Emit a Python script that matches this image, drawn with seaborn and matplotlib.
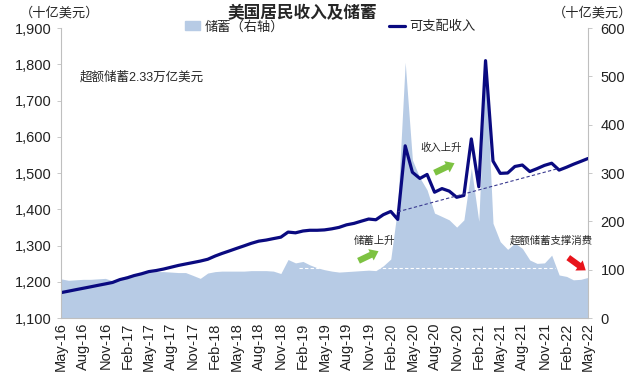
import pandas as pd
import numpy as np
import seaborn as sns
import matplotlib.pyplot as plt
import matplotlib.dates as mdates
import matplotlib.ticker as mticker

# monthly data May-16 .. May-22
months = pd.date_range("2016-05-01", periods=73, freq="MS")

income = [1170, 1174, 1178, 1182, 1186, 1190, 1194, 1198, 1206, 1211, 1217, 1222,
          1228, 1231, 1235, 1240, 1245, 1249, 1253, 1257, 1262, 1271, 1278, 1285,
          1292, 1299, 1306, 1312, 1315, 1319, 1323, 1337, 1335, 1340, 1342, 1342,
          1343, 1346, 1350, 1357, 1361, 1367, 1373, 1371, 1385, 1394, 1372, 1575,
          1502, 1485, 1496, 1447, 1457, 1450, 1433, 1438, 1594, 1462, 1810, 1533,
          1499, 1500, 1518, 1522, 1504, 1512, 1521, 1527, 1508, 1516, 1524, 1532,
          1540]

savings = [81, 78, 79, 80, 80, 81, 82, 77, 83, 88, 91, 92,
           95, 96, 96, 95, 94, 94, 88, 82, 93, 96, 97, 97,
           97, 97, 98, 98, 98, 97, 92, 121, 114, 117, 110, 104,
           100, 97, 95, 96, 97, 98, 99, 98, 108, 122, 230, 529,
           327, 290, 265, 217, 210, 203, 188, 203, 310, 200, 527, 196,
           158, 142, 155, 144, 120, 113, 114, 130, 89, 86, 79, 80,
           84]

# guide lines
trend_dates = pd.to_datetime(["2020-03-01", "2022-01-01"])
trend_vals = [1393, 1513]
base_dates = pd.to_datetime(["2019-01-15", "2021-12-15"])
base_vals = [103, 103]

df = pd.DataFrame({"月份": months, "可支配收入": income, "储蓄": savings})

sns.set_style("white")
plt.rcParams["font.family"] = ["Liberation Sans", "Noto Sans CJK SC", "DejaVu Sans"]

fig = plt.figure(figsize=(6.4, 3.82), dpi=100)
ax = fig.add_axes([61 / 640, 1 - 318 / 382, 527 / 640, 290 / 382])
ax2 = ax.twinx()

area_color = "#B7CBE5"
line_color = "#0A0A80"

ax2.fill_between(df["月份"], 0, df["储蓄"], color=area_color, lw=0)
ax2.plot(base_dates, base_vals, color="white", ls=(0, (3, 2)), lw=0.8)
sns.lineplot(data=df, x="月份", y="可支配收入", ax=ax, color=line_color, lw=2.3)
ax.plot(trend_dates, trend_vals, color="#3A3A90", ls=(0, (3, 2)), lw=0.8)

ax.set_zorder(ax2.get_zorder() + 1)
ax.patch.set_visible(False)

ax.set_xlim(months[0], months[-1])
ax.set_ylim(1100, 1900)
ax2.set_ylim(0, 600)
ax.set_yticks(range(1100, 1901, 100))
ax2.set_yticks(range(0, 601, 100))
ax.yaxis.set_major_formatter(mticker.FuncFormatter(lambda v, p: f"{int(v):,}"))
ax.set_xticks(months[::3])
ax.xaxis.set_major_formatter(mdates.DateFormatter("%b-%y"))
ax.set_xlabel("")
ax.set_ylabel("")
ax2.set_ylabel("")

for a in (ax, ax2):
    for s in a.spines.values():
        s.set_visible(False)
    a.tick_params(labelsize=10.5, colors="#222222", length=3, width=0.6)
ax.spines["left"].set_visible(True)
ax.spines["left"].set_color("#BFBFBF")
ax.spines["bottom"].set_visible(True)
ax.spines["bottom"].set_color("#BFBFBF")
ax2.spines["right"].set_visible(True)
ax2.spines["right"].set_color("#BFBFBF")
ax.tick_params(axis="x", rotation=90, direction="in", color="#BFBFBF", pad=3)
ax.tick_params(axis="y", color="#BFBFBF")
ax2.tick_params(axis="y", color="#BFBFBF", pad=6)


def fp(x, y):
    return (x / 640, 1 - y / 382)


fig.text(*fp(302, 13), "美国居民收入及储蓄", ha="center", va="center",
         fontsize=12, fontweight="bold")
fig.text(*fp(20, 13), "（十亿美元）", ha="left", va="center", fontsize=9.5)
fig.text(*fp(632, 13), "（十亿美元）", ha="right", va="center", fontsize=9.5)
fig.text(*fp(80, 77), "超额储蓄2.33万亿美元", ha="left", va="center", fontsize=9)
fig.text(*fp(354, 241), "储蓄上升", ha="left", va="center", fontsize=7.5)
fig.text(*fp(420, 148), "收入上升", ha="left", va="center", fontsize=7.5)
fig.text(*fp(510, 241), "超额储蓄支撑消费", ha="left", va="center", fontsize=7.5)

arrows = [((356, 262), (381, 250), "#7DC242"),
          ((432, 174), (457, 162), "#7DC242"),
          ((566, 256), (588, 272), "#E8141B")]
for start, end, col in arrows:
    fig.add_artist(plt.Annotation(
        "", xy=fp(*end), xytext=fp(*start), xycoords="figure fraction",
        textcoords="figure fraction",
        arrowprops=dict(arrowstyle="simple,head_width=0.9,head_length=0.6,tail_width=0.45",
                        color=col, lw=0)))

handles = [plt.Rectangle((0, 0), 1, 1, color=area_color),
           plt.Line2D([], [], color=line_color, lw=2.3)]
fig.legend(handles, ["储蓄（右轴）", "可支配收入"], loc="center",
           bbox_to_anchor=fp(330, 27), ncol=2, frameon=False, fontsize=9.5,
           columnspacing=8, handlelength=1.2, handletextpad=0.3)

fig.savefig("out.png", dpi=100)
